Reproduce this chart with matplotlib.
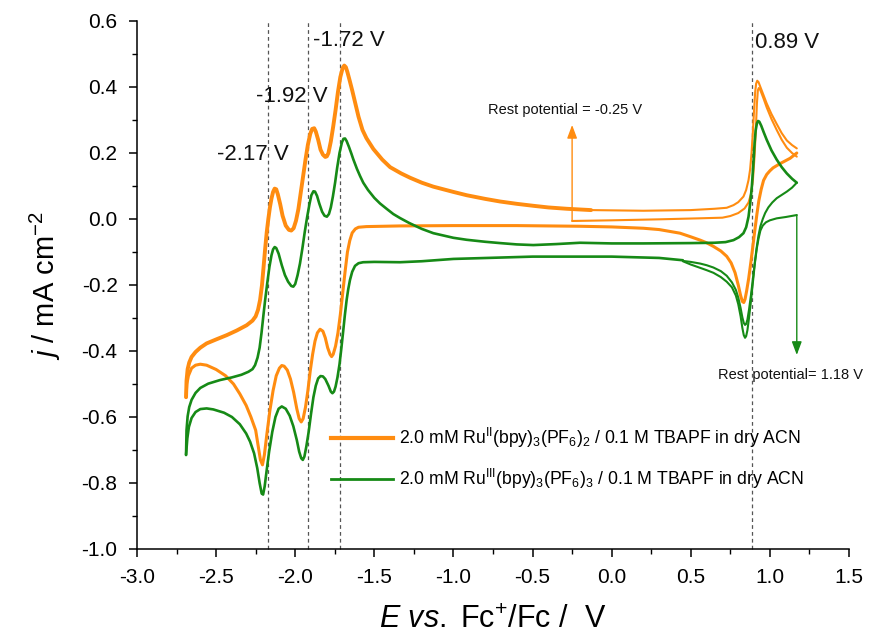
import matplotlib
matplotlib.use("Agg")
import matplotlib.pyplot as plt
from matplotlib.ticker import MultipleLocator, FormatStrFormatter
from matplotlib.lines import Line2D

plt.rcParams['font.family'] = ['Liberation Sans', 'DejaVu Sans']
plt.rcParams['mathtext.fontset'] = 'custom'
plt.rcParams['mathtext.rm'] = 'Liberation Sans'
plt.rcParams['mathtext.it'] = 'Liberation Sans:italic'
plt.rcParams['mathtext.bf'] = 'Liberation Sans:bold'
plt.rcParams['axes.unicode_minus'] = False

ORANGE = '#FF8C10'
GREEN = '#168A16'

# ---------------- Ru(II) (orange) ----------------
# initial sweep from rest potential (-0.25 V), positive-going
or_init_E = [-0.25, 0.0, 0.3, 0.55, 0.70, 0.75, 0.80, 0.84, 0.865, 0.88, 0.893, 0.903, 0.912, 0.918, 0.924, 0.93, 0.94,
             0.96, 0.98, 1.01, 1.043, 1.075, 1.107, 1.14, 1.17]
or_init_J = [-0.006, -0.004, -0.001, 0.002, 0.004, 0.009, 0.018, 0.032, 0.05, 0.075, 0.12, 0.19, 0.28, 0.35, 0.39, 0.397,
             0.39, 0.365, 0.338, 0.303, 0.27, 0.24, 0.216, 0.2, 0.189]
# positive-going sweep on the upper baseline up to 1.18 V
or_out_E = [-0.13, 0.2, 0.5, 0.65, 0.727, 0.77, 0.80, 0.833, 0.85, 0.865, 0.875, 0.884, 0.892, 0.90, 0.907, 0.913, 0.92,
            0.928, 0.94, 0.96, 0.98, 1.01, 1.043, 1.075, 1.107, 1.14, 1.17]
or_out_J = [0.027, 0.025, 0.027, 0.031, 0.034, 0.042, 0.051, 0.068, 0.088, 0.118, 0.15, 0.2, 0.26, 0.33, 0.385, 0.41, 0.419,
            0.415, 0.40, 0.375, 0.35, 0.318, 0.288, 0.26, 0.238, 0.224, 0.214]
# negative-going sweep 1.18 -> -2.7 V
or_rev_E = [1.17, 1.128, 1.065, 1.02, 1.0, 0.98, 0.96, 0.945, 0.93, 0.918, 0.906, 0.893, 0.88, 0.866, 0.853, 0.843, 0.835,
            0.826, 0.815, 0.80, 0.78, 0.755, 0.727, 0.69, 0.643, 0.6, 0.559, 0.5, 0.432, 0.3, 0.2, 0.0, -0.2, -0.6, -1.0,
            -1.338, -1.55, -1.60, -1.62, -1.64, -1.655, -1.67, -1.685, -1.70, -1.715, -1.73, -1.745, -1.76, -1.77, -1.78,
            -1.795, -1.81, -1.825, -1.843, -1.86, -1.875, -1.89, -1.905, -1.92, -1.935, -1.95, -1.962, -1.975, -1.99, -2.01,
            -2.03, -2.05, -2.07, -2.085, -2.10, -2.12, -2.14, -2.16, -2.18, -2.195, -2.207, -2.22, -2.235, -2.25, -2.28,
            -2.31, -2.35, -2.39, -2.44, -2.50, -2.56, -2.60, -2.63, -2.655, -2.675, -2.685, -2.69]
or_rev_J = [0.20, 0.184, 0.168, 0.155, 0.146, 0.135, 0.117, 0.09, 0.055, 0.015, -0.03, -0.08, -0.13, -0.18, -0.218, -0.243,
            -0.253, -0.25, -0.232, -0.2, -0.163, -0.133, -0.113, -0.097, -0.083, -0.072, -0.064, -0.054, -0.043, -0.032,
            -0.028, -0.024, -0.022, -0.02, -0.02, -0.021, -0.023, -0.025, -0.030, -0.042, -0.065, -0.10, -0.16, -0.225,
            -0.29, -0.345, -0.385, -0.41, -0.417, -0.41, -0.39, -0.36, -0.34, -0.334, -0.345, -0.37, -0.41, -0.46, -0.52,
            -0.57, -0.605, -0.615, -0.605, -0.575, -0.525, -0.485, -0.458, -0.446, -0.444, -0.452, -0.475, -0.52, -0.58,
            -0.655, -0.715, -0.745, -0.73, -0.685, -0.64, -0.6, -0.565, -0.53, -0.50, -0.475, -0.456, -0.443, -0.44,
            -0.443, -0.452, -0.475, -0.50, -0.54]
# positive-going sweep -2.7 -> -0.13 V (end of scan)
or_fwd_E = [-2.69, -2.687, -2.68, -2.67, -2.655, -2.63, -2.60, -2.56, -2.50, -2.433, -2.37, -2.307, -2.27, -2.25, -2.235,
            -2.222, -2.21, -2.20, -2.19, -2.18, -2.17, -2.16, -2.15, -2.14, -2.13, -2.12, -2.11, -2.095, -2.08, -2.06, -2.04,
            -2.025, -2.01, -1.995, -1.98, -1.965, -1.95, -1.935, -1.92, -1.905, -1.893, -1.88, -1.87, -1.855, -1.84, -1.825,
            -1.81, -1.80, -1.79, -1.775, -1.76, -1.745, -1.73, -1.715, -1.70, -1.69, -1.68, -1.67, -1.655, -1.64, -1.62,
            -1.60, -1.575, -1.55, -1.506, -1.45, -1.40, -1.33, -1.274, -1.2, -1.127, -1.0, -0.916, -0.8, -0.705, -0.6,
            -0.495, -0.4, -0.284, -0.13]
or_fwd_J = [-0.54, -0.49, -0.455, -0.435, -0.418, -0.403, -0.39, -0.377, -0.365, -0.352, -0.338, -0.322, -0.308, -0.295,
            -0.275, -0.245, -0.2, -0.145, -0.09, -0.04, 0.0, 0.035, 0.062, 0.082, 0.092, 0.09, 0.075, 0.045, 0.01, -0.02,
            -0.033, -0.035, -0.028, -0.005, 0.03, 0.08, 0.13, 0.18, 0.225, 0.258, 0.273, 0.275, 0.265, 0.24, 0.21, 0.195,
            0.188, 0.19, 0.20, 0.235, 0.28, 0.33, 0.385, 0.43, 0.458, 0.465, 0.46, 0.445, 0.418, 0.39, 0.35, 0.31, 0.27,
            0.245, 0.212, 0.18, 0.157, 0.138, 0.125, 0.11, 0.098, 0.082, 0.072, 0.061, 0.053, 0.046, 0.040, 0.035, 0.031,
            0.027]

# ---------------- Ru(III) (green) ----------------
# initial sweep from rest potential (1.18 V), negative-going
gr_init_E = [1.17, 1.10, 1.043, 1.0, 0.975, 0.955, 0.94, 0.928, 0.917, 0.905, 0.893, 0.88, 0.868, 0.858, 0.85, 0.843,
             0.835, 0.826, 0.815, 0.80, 0.785, 0.76, 0.727, 0.69, 0.643, 0.6, 0.559, 0.5, 0.45]
gr_init_J = [0.012, 0.006, 0.002, -0.004, -0.01, -0.02, -0.035, -0.06, -0.09, -0.135, -0.19, -0.25, -0.30, -0.337, -0.355,
             -0.36, -0.352, -0.33, -0.295, -0.258, -0.232, -0.207, -0.19, -0.176, -0.163, -0.155, -0.148, -0.138, -0.128]
# second negative-going sweep from the 1.18 V vertex
gr_revr_E = [1.17, 1.14, 1.107, 1.075, 1.043, 1.015, 0.99, 0.97, 0.955, 0.94, 0.928, 0.917, 0.905, 0.893, 0.88, 0.868,
             0.858, 0.85, 0.843, 0.835, 0.826, 0.815, 0.80, 0.785, 0.76, 0.727, 0.69, 0.643, 0.6, 0.559, 0.5, 0.45]
gr_revr_J = [0.11, 0.095, 0.083, 0.073, 0.063, 0.05, 0.035, 0.018, 0.0, -0.022, -0.05, -0.085, -0.13, -0.18, -0.232,
             -0.275, -0.305, -0.318, -0.321, -0.315, -0.298, -0.27, -0.238, -0.215, -0.192, -0.172, -0.158, -0.147, -0.14,
             -0.135, -0.13, -0.127]
# negative-going sweep 0.45 -> -2.7 V
gr_revl_E = [0.45, 0.3, 0.0, -0.5, -1.0, -1.2, -1.338, -1.5, -1.571, -1.60, -1.622, -1.64, -1.654, -1.665, -1.675, -1.686,
             -1.696, -1.708, -1.72, -1.733, -1.745, -1.755, -1.765, -1.775, -1.79, -1.81, -1.825, -1.84, -1.855, -1.87,
             -1.885, -1.90, -1.915, -1.93, -1.942, -1.952, -1.962, -1.975, -1.99, -2.012, -2.035, -2.06, -2.085, -2.105,
             -2.125, -2.145, -2.165, -2.18, -2.193, -2.203, -2.212, -2.225, -2.24, -2.26, -2.285, -2.31, -2.35, -2.40,
             -2.45, -2.518, -2.56, -2.60, -2.63, -2.655, -2.672, -2.682, -2.69]
gr_revl_J = [-0.125, -0.118, -0.114, -0.114, -0.121, -0.128, -0.131, -0.13, -0.131, -0.134, -0.142, -0.16, -0.185, -0.213,
             -0.245, -0.29, -0.336, -0.39, -0.44, -0.48, -0.508, -0.523, -0.528, -0.523, -0.505, -0.485, -0.477, -0.476,
             -0.483, -0.505, -0.54, -0.59, -0.645, -0.69, -0.72, -0.73, -0.725, -0.705, -0.67, -0.628, -0.596, -0.575,
             -0.568, -0.575, -0.60, -0.645, -0.705, -0.76, -0.81, -0.835, -0.832, -0.80, -0.755, -0.71, -0.675, -0.65,
             -0.622, -0.60, -0.587, -0.577, -0.574, -0.576, -0.585, -0.603, -0.63, -0.665, -0.715]
# positive-going sweep -2.7 -> 1.18 V
gr_fwd_E = [-2.69, -2.687, -2.68, -2.67, -2.655, -2.63, -2.60, -2.55, -2.475, -2.40, -2.34, -2.296, -2.27, -2.254, -2.238,
            -2.225, -2.213, -2.202, -2.19, -2.177, -2.163, -2.15, -2.14, -2.13, -2.12, -2.105, -2.085, -2.065, -2.045,
            -2.025, -2.012, -2.0, -1.985, -1.97, -1.955, -1.94, -1.925, -1.91, -1.898, -1.885, -1.875, -1.862, -1.848,
            -1.83, -1.815, -1.80, -1.787, -1.775, -1.762, -1.748, -1.735, -1.72, -1.705, -1.695, -1.685, -1.675, -1.66,
            -1.645, -1.633, -1.61, -1.59, -1.57, -1.54, -1.50, -1.464, -1.42, -1.38, -1.338, -1.28, -1.2, -1.127, -1.0,
            -0.916, -0.8, -0.705, -0.6, -0.495, -0.35, -0.2, 0.0, 0.2, 0.5, 0.65, 0.72, 0.77, 0.805, 0.833, 0.85, 0.865,
            0.876, 0.886, 0.896, 0.903, 0.91, 0.918, 0.925, 0.933, 0.945, 0.96, 0.98, 1.01, 1.043, 1.075, 1.107, 1.14, 1.17]
gr_fwd_J = [-0.715, -0.64, -0.598, -0.57, -0.548, -0.527, -0.512, -0.499, -0.488, -0.48, -0.472, -0.463, -0.455, -0.443,
            -0.42, -0.39, -0.345, -0.296, -0.245, -0.195, -0.145, -0.11, -0.092, -0.085, -0.088, -0.105, -0.14, -0.17,
            -0.19, -0.203, -0.205, -0.197, -0.17, -0.135, -0.09, -0.04, 0.005, 0.045, 0.072, 0.084, 0.083, 0.07, 0.047,
            0.022, 0.01, 0.007, 0.015, 0.035, 0.068, 0.11, 0.155, 0.20, 0.232, 0.243, 0.244, 0.236, 0.218, 0.198, 0.181,
            0.152, 0.13, 0.11, 0.088, 0.064, 0.047, 0.03, 0.015, 0.003, -0.012, -0.03, -0.043, -0.057, -0.063, -0.069,
            -0.073, -0.077, -0.079, -0.076, -0.072, -0.074, -0.074, -0.073, -0.072, -0.07, -0.064, -0.055, -0.043, -0.025,
            0.007, 0.05, 0.098, 0.17, 0.228, 0.268, 0.29, 0.297, 0.295, 0.283, 0.264, 0.24, 0.208, 0.18, 0.157, 0.138,
            0.122, 0.11]

peak_E = [-2.17, -1.92, -1.72, 0.89]
peak_labels = ['-2.17 V', '-1.92 V', '-1.72 V', '0.89 V']
label_E = [-2.494, -2.248, -1.887, 0.907]
label_J = [0.194, 0.370, 0.542, 0.536]

legend_labels = [r'2.0 mM Ru$^{\mathrm{II}}$(bpy)$_3$(PF$_6$)$_2$ / 0.1 M TBAPF in dry ACN',
                 r'2.0 mM Ru$^{\mathrm{III}}$(bpy)$_3$(PF$_6$)$_3$ / 0.1 M TBAPF in dry ACN']

fig = plt.figure(figsize=(8.70, 6.38), dpi=100)
ax = fig.add_axes([137/870, 1 - 549/638, (849 - 137)/870, (549 - 21)/638])

kw_o = dict(color=ORANGE, solid_joinstyle='round', solid_capstyle='round')
kw_g = dict(color=GREEN, solid_joinstyle='round', solid_capstyle='round')

ax.plot(or_init_E, or_init_J, lw=1.5, **kw_o)
ax.plot(or_out_E, or_out_J, lw=1.5, **kw_o)
ax.plot(or_rev_E, or_rev_J, lw=2.2, **kw_o)
ax.plot(or_fwd_E, or_fwd_J, lw=2.8, **kw_o)

ax.plot(gr_init_E, gr_init_J, lw=1.5, **kw_g)
ax.plot(gr_revr_E, gr_revr_J, lw=1.5, **kw_g)
ax.plot(gr_revl_E, gr_revl_J, lw=1.9, **kw_g)
ax.plot(gr_fwd_E, gr_fwd_J, lw=1.9, **kw_g)

for e in peak_E:
    ax.plot([e, e], [-1.0, 0.6], color='#555555', lw=0.9, ls=(0, (3, 2.5)), zorder=1, clip_on=False)
for e, j, t in zip(label_E, label_J, peak_labels):
    ax.text(e, j, t, fontsize=16, ha='left', va='center', color='#111111')

# rest potential arrows
ax.annotate('', xy=(-0.25, 0.285), xytext=(-0.25, -0.006),
            arrowprops=dict(arrowstyle='-|>,head_length=0.8,head_width=0.3', color=ORANGE, lw=1.0, shrinkA=0, shrinkB=0))
ax.text(-0.78, 0.33, 'Rest potential = -0.25 V', fontsize=10.5, ha='left', va='center', color='#111111')
ax.annotate('', xy=(1.17, -0.412), xytext=(1.17, 0.012),
            arrowprops=dict(arrowstyle='-|>,head_length=0.8,head_width=0.3', color=GREEN, lw=1.0, shrinkA=0, shrinkB=0),
            annotation_clip=False)
ax.text(0.673, -0.473, 'Rest potential= 1.18 V', fontsize=10.5, ha='left', va='center', color='#111111', clip_on=False)

ax.set_xlim(-3.0, 1.5)
ax.set_ylim(-1.0, 0.6)
ax.spines['top'].set_visible(False)
ax.spines['right'].set_visible(False)
ax.xaxis.set_major_locator(MultipleLocator(0.5))
ax.xaxis.set_minor_locator(MultipleLocator(0.25))
ax.yaxis.set_major_locator(MultipleLocator(0.2))
ax.yaxis.set_minor_locator(MultipleLocator(0.1))
ax.xaxis.set_major_formatter(FormatStrFormatter('%.1f'))
ax.yaxis.set_major_formatter(FormatStrFormatter('%.1f'))
ax.tick_params(which='major', direction='out', length=6, width=1.1, labelsize=15, pad=8)
ax.tick_params(which='minor', direction='out', length=3.5, width=1.0)
for s in ['left', 'bottom']:
    ax.spines[s].set_linewidth(1.1)

ax.set_xlabel(r'$\mathit{E}$ $\mathit{vs.}$ Fc$^{+}$/Fc /  V', fontsize=22, labelpad=13)
ax.set_ylabel(r'$\mathit{j}$ / mA cm$^{-2}$', fontsize=21, labelpad=13)

handles = [Line2D([], [], color=ORANGE, lw=3.0), Line2D([], [], color=GREEN, lw=2.0)]
ax.legend(handles, legend_labels, loc='upper left', bbox_to_anchor=(331/870, 1 - 426/638),
          bbox_transform=fig.transFigure, frameon=False, fontsize=12.7, handlelength=3.5,
          handletextpad=0.35, labelspacing=0.95, borderpad=0, borderaxespad=0)

fig.savefig('out.png', dpi=100)
